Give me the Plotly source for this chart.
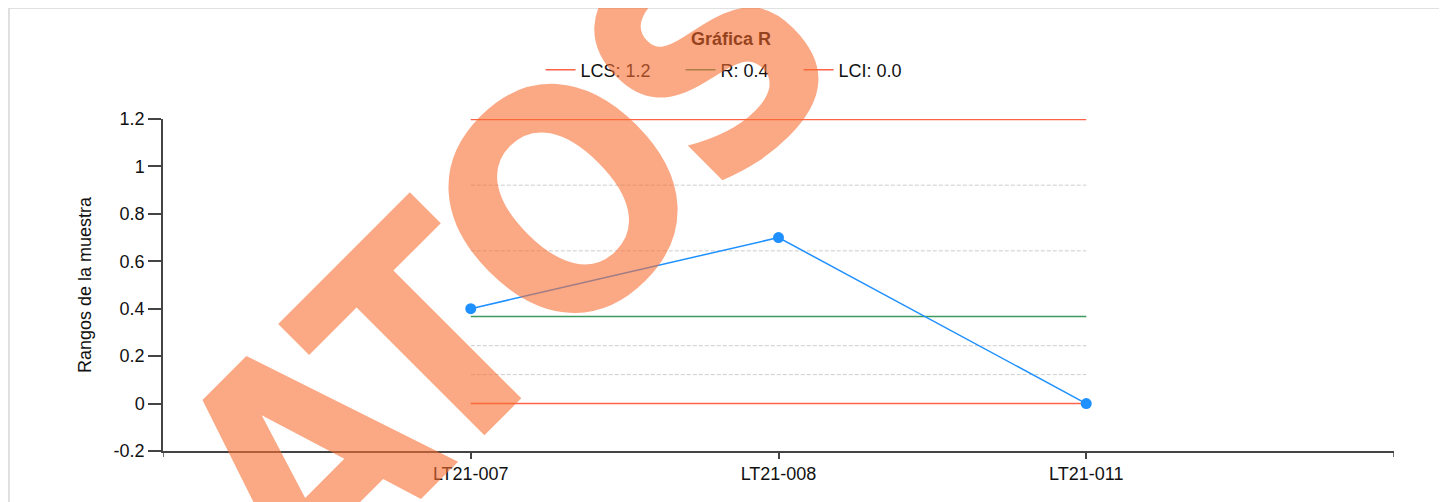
import plotly.graph_objects as go

# datos de la grafica R
lotes = ["LT21-007", "LT21-008", "LT21-011"]
rangos = [0.4, 0.7, 0.0]

lcs = 1.198
r_media = 0.367
lci = 0.0
zonas = [0.921, 0.644, 0.244, 0.122]

nombres = ["LCS: 1.2", "R: 0.4", "LCI: 0.0"]
y_ticks = [-0.2, 0, 0.2, 0.4, 0.6, 0.8, 1, 1.2]
y_labels = ["-0.2", "0", "0.2", "0.4", "0.6", "0.8", "1", "1.2"]

# marca de agua, letra por letra (centro de cada letra en coordenadas paper)
marca = ["A", "T", "O", "S"]
marca_x = [0.1184, 0.2149, 0.3280, 0.4453]
marca_y = [-0.0280, 0.3298, 0.7494, 1.1840]

fuente = "Liberation Sans, Arial, sans-serif"
nbsp = "\u00a0"

fig = go.Figure()

# lineas de control
limites = [lcs, r_media, lci]
colores = ["#ff6347", "#3c9a5f", "#ff6347"]
for i, (valor, nombre, color) in enumerate(zip(limites, nombres, colores)):
    etiqueta = nombre + (nbsp * 5 if i < 2 else "")
    fig.add_trace(go.Scatter(
        x=lotes, y=[valor] * len(lotes), mode="lines", name=etiqueta,
        line=dict(color=color, width=1.5), hoverinfo="skip"
    ))

# zonas (lineas punteadas)
for z in zonas:
    fig.add_trace(go.Scatter(
        x=lotes, y=[z] * len(lotes), mode="lines", showlegend=False,
        line=dict(color="#cccccc", width=1, dash="4px,2px"), hoverinfo="skip"
    ))

# rangos de la muestra
fig.add_trace(go.Scatter(
    x=lotes, y=rangos, mode="lines+markers", showlegend=False,
    line=dict(color="#1e90ff", width=1.5),
    marker=dict(color="#1e90ff", size=11)
))

for letra, mx, my in zip(marca, marca_x, marca_y):
    fig.add_annotation(
        text=letra, xref="paper", yref="paper", x=mx, y=my,
        xanchor="center", yanchor="middle", textangle=-45, showarrow=False,
        font=dict(family="Liberation Sans Narrow, Arial Narrow, DejaVu Sans Condensed, sans-serif",
                  size=308, weight="bold", color="rgba(249,110,50,0.6)")
    )

# borde del contenedor y ticks de los extremos
fig.add_shape(type="rect", xref="paper", yref="paper",
              x0=-0.1251, x1=1.0406, y0=-0.3, y1=1.3343,
              line=dict(color="#d6d6d6", width=1.5), layer="below")
for xe in [-1, 3]:
    fig.add_shape(type="line", xref="x", yref="paper", x0=xe, x1=xe,
                  y0=0, y1=-6 / 332, line=dict(color="#444444", width=1.5))

fig.update_layout(
    width=1439, height=494,
    paper_bgcolor="white", plot_bgcolor="white",
    margin=dict(l=155, r=53, t=111, b=51),
    font=dict(family=fuente, size=18, color="#111111"),
    title=dict(text="<b>Gráfica R</b>", x=723 / 1439, xref="container", xanchor="center",
               y=1 - 31 / 494, yref="container", yanchor="middle",
               font=dict(family=fuente, size=18, color="#000000")),
    legend=dict(orientation="h", xref="container", yref="container",
                x=716 / 1439, y=1 - 62 / 494, xanchor="center", yanchor="middle",
                font=dict(size=18), bgcolor="rgba(0,0,0,0)"),
    showlegend=True,
)

fig.update_xaxes(
    type="category", range=[-1, 3], showgrid=False, zeroline=False,
    showline=True, linecolor="#444444", linewidth=1.5,
    ticks="outside", ticklen=6, tickcolor="#444444", tickwidth=1.5,
    tickfont=dict(size=18)
)
fig.update_yaxes(
    range=[-0.2, 1.2], tickvals=y_ticks, ticktext=y_labels,
    showgrid=False, zeroline=False,
    showline=True, linecolor="#444444", linewidth=1.5,
    ticks="outside", ticklen=13, tickcolor="#444444", tickwidth=1.5,
    tickfont=dict(size=18),
    title=dict(text="Rangos de la muestra", font=dict(size=18), standoff=17)
)

fig.write_html("out.html")
